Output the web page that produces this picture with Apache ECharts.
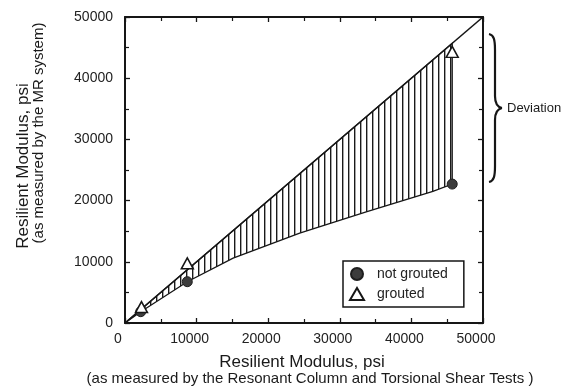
<!DOCTYPE html>
<html>
<head>
<meta charset="utf-8">
<script src="https://cdn.jsdelivr.net/npm/echarts@6/dist/echarts.min.js"></script>
<style>
  html, body { margin: 0; padding: 0; background: #fff; }
  #chart { width: 568px; height: 391px; }
</style>
</head>
<body>
<div id="chart"></div>
<script>
// Axis ticks (psi)
const tickValues = [0, 10000, 20000, 30000, 40000, 50000];

// Measured points: [RC/TS modulus, MR-system modulus]
const notGrouted = [[2200, 1850], [8700, 6750], [45700, 22700]];
const grouted = [[2300, 2600], [8700, 9750], [45700, 44300]];

// Trend of the non-grouted results (lower edge of the deviation band)
const trendX = [0, 2200, 8700, 15100, 24400, 33800, 43000, 45700];
const trendY = [0, 1850, 6750, 10600, 14700, 18200, 21500, 22700];

// Line of equality
const equalityX = [0, 50000];
const equalityY = [0, 50000];

const FONT = "'Liberation Sans', Arial, Helvetica, sans-serif";
const INK = '#161616';

const trendPts = trendX.map((x, i) => [x, trendY[i]]);
const equalityPts = equalityX.map((x, i) => [x, equalityY[i]]);

// Vertical hatch used to fill the band between the equality line and the trend
const hatch = document.createElement('canvas');
hatch.width = 6; hatch.height = 4;
(function () {
  const c = hatch.getContext('2d');
  c.fillStyle = '#1a1a1a';
  c.fillRect(0, 0, 1, 4);
  c.fillStyle = 'rgba(30,30,30,0.4)';
  c.fillRect(1, 0, 1, 4);
})();

const chart = echarts.init(document.getElementById('chart'), null, { renderer: 'canvas' });

function valueAxis(position, showLabels, isX) {
  return {
    type: 'value',
    position: position,
    min: tickValues[0],
    max: tickValues[tickValues.length - 1],
    interval: tickValues[1] - tickValues[0],
    axisLine: { show: true, onZero: false, lineStyle: { color: INK, width: 2 } },
    axisTick: { show: true, inside: true, length: 5, lineStyle: { color: INK, width: 1.3 } },
    minorTick: { show: true, splitNumber: 2, length: 4, lineStyle: { color: INK, width: 1.2 } },
    splitLine: { show: false },
    axisLabel: showLabels ? {
      color: '#222', fontFamily: FONT, fontSize: 14,
      margin: isX ? 9 : 12,
      padding: isX ? [0, 14, 0, 0] : [0, 0, 6, 0],
      formatter: v => String(v)
    } : { show: false }
  };
}

// Curly brace beside the plot, built from bezier segments
const STROKE = { fill: null, stroke: INK, lineWidth: 2.2 };
const brace = [
  { type: 'bezierCurve', shape: { x1: 489, y1: 34, cpx1: 494, cpy1: 35, cpx2: 495, cpy2: 40, x2: 495, y2: 50 }, style: STROKE },
  { type: 'line', shape: { x1: 495, y1: 50, x2: 495, y2: 96 }, style: STROKE },
  { type: 'bezierCurve', shape: { x1: 495, y1: 96, cpx1: 495, cpy1: 103, cpx2: 497, cpy2: 107, x2: 502, y2: 108 }, style: STROKE },
  { type: 'bezierCurve', shape: { x1: 502, y1: 108, cpx1: 497, cpy1: 109, cpx2: 495, cpy2: 113, x2: 495, y2: 120 }, style: STROKE },
  { type: 'line', shape: { x1: 495, y1: 120, x2: 495, y2: 166 }, style: STROKE },
  { type: 'bezierCurve', shape: { x1: 495, y1: 166, cpx1: 495, cpy1: 176, cpx2: 494, cpy2: 181, x2: 489, y2: 182 }, style: STROKE }
];

chart.setOption({
  animation: false,
  backgroundColor: '#fff',
  grid: { left: 125, right: 85, top: 17, bottom: 68, containLabel: false },
  xAxis: [valueAxis('bottom', true, true), valueAxis('top', false, true)],
  yAxis: [valueAxis('left', true, false), valueAxis('right', false, false)],
  legend: {
    orient: 'vertical',
    left: 343, top: 261,
    padding: [6, 16, 6, 6],
    itemWidth: 14, itemHeight: 12, itemGap: 6,
    backgroundColor: '#fff',
    borderColor: INK, borderWidth: 1.5, borderRadius: 0,
    textStyle: { color: '#222', fontFamily: FONT, fontSize: 14, padding: [0, 0, 0, 8] },
    data: [
      { name: 'not grouted', icon: 'circle' },
      { name: 'grouted', icon: 'triangle' }
    ]
  },
  series: [
    {
      // hatched deviation band
      type: 'custom',
      name: 'band',
      coordinateSystem: 'cartesian2d',
      xAxisIndex: 0, yAxisIndex: 0,
      encode: { x: 0, y: 1 },
      data: trendPts,
      silent: true,
      z: 1,
      renderItem: function (params, api) {
        if (params.dataIndex !== 0) return null;
        const xEnd = trendX[trendX.length - 1];
        const pts = [api.coord([0, 0]), api.coord([xEnd, xEnd])];
        for (let i = trendPts.length - 1; i >= 0; i--) pts.push(api.coord(trendPts[i]));
        return {
          type: 'polygon',
          shape: { points: pts },
          style: { fill: { image: hatch, repeat: 'repeat' }, stroke: INK, lineWidth: 1.3 }
        };
      }
    },
    {
      type: 'line',
      name: 'equality',
      xAxisIndex: 0, yAxisIndex: 0,
      data: equalityPts,
      symbol: 'none',
      lineStyle: { color: INK, width: 1.6 },
      z: 2,
      silent: true
    },
    {
      type: 'scatter',
      name: 'not grouted',
      xAxisIndex: 0, yAxisIndex: 0,
      data: notGrouted,
      symbol: 'circle',
      symbolSize: 10,
      itemStyle: { color: '#3c3c3c', borderColor: '#1e1e1e', borderWidth: 1, opacity: 1 },
      z: 3
    },
    {
      type: 'scatter',
      name: 'grouted',
      xAxisIndex: 0, yAxisIndex: 0,
      data: grouted,
      symbol: 'triangle',
      symbolSize: [12, 11],
      itemStyle: { color: '#fff', borderColor: INK, borderWidth: 1.5, opacity: 1 },
      z: 4
    }
  ],
  graphic: brace.concat([
    {
      type: 'text',
      style: { text: 'Resilient Modulus, psi', fontFamily: FONT, fontSize: 17, fill: '#1a1a1a',
               x: 302, y: 362, align: 'center', verticalAlign: 'middle' }
    },
    {
      type: 'text',
      style: { text: '(as measured by the Resonant Column and Torsional Shear Tests )',
               fontFamily: FONT, fontSize: 15, fill: '#1a1a1a',
               x: 310, y: 379, align: 'center', verticalAlign: 'middle' }
    },
    {
      type: 'text', x: 23, y: 166, rotation: Math.PI / 2,
      style: { text: 'Resilient Modulus, psi', fontFamily: FONT, fontSize: 17, fill: '#1a1a1a',
               x: 0, y: 0, align: 'center', verticalAlign: 'middle' }
    },
    {
      type: 'text', x: 39, y: 133, rotation: Math.PI / 2,
      style: { text: '(as measured by the MR system)', fontFamily: FONT, fontSize: 15, fill: '#1a1a1a',
               x: 0, y: 0, align: 'center', verticalAlign: 'middle' }
    },
    {
      type: 'text',
      style: { text: 'Deviation', fontFamily: FONT, fontSize: 13, fill: '#1a1a1a',
               x: 507, y: 108, align: 'left', verticalAlign: 'middle' }
    }
  ])
});
</script>
</body>
</html>
